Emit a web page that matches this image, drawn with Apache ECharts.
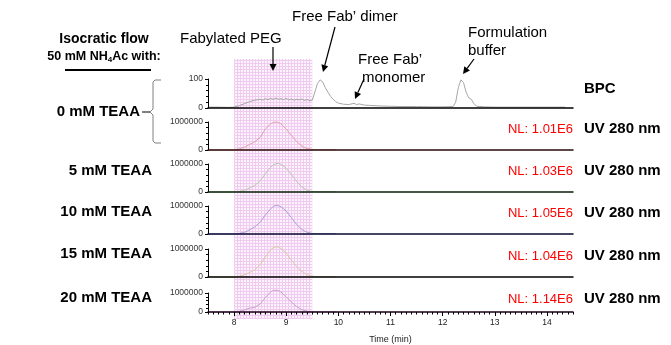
<!DOCTYPE html>
<html>
<head>
<meta charset="utf-8">
<script src="https://cdn.jsdelivr.net/npm/echarts@6/dist/echarts.min.js"></script>
<style>
  html, body { margin: 0; padding: 0; background: #fff; }
  #chart { width: 671px; height: 345px; }
</style>
</head>
<body>
<div id="chart"></div>
<script>
// time axis (min)
const timeRange = [7.5, 14.5]
const timeTicks = [8, 9, 10, 11, 12, 13, 14]
const pegWindow = [8, 9.5]

// BPC trace (relative abundance)
const bpcTime = [7.5, 7.7, 7.9, 8.0, 8.1, 8.2, 8.3, 8.4, 8.5, 8.55, 8.6, 8.65, 8.7, 8.75, 8.8, 8.85, 8.9, 8.95, 9.0, 9.05,
  9.1, 9.15, 9.2, 9.25, 9.3, 9.35, 9.4, 9.45, 9.5, 9.55, 9.6, 9.65, 9.7, 9.75, 9.8, 9.85, 9.9, 9.95, 10.0, 10.1,
  10.2, 10.3, 10.35, 10.4, 10.5, 10.6, 10.8, 11.0, 11.2, 11.5, 11.8, 12.0, 12.2, 12.25, 12.3, 12.35, 12.4, 12.45, 12.5, 12.55,
  12.6, 12.65, 12.8, 13.0, 13.5, 14.0, 14.35]
const bpcValue = [3, 3, 2, 3, 8, 15, 22, 27, 30, 27, 32, 29, 33, 30, 34, 30, 32, 29, 33, 28,
  31, 27, 30, 28, 31, 26, 29, 25, 27, 55, 85, 97, 90, 70, 55, 40, 30, 22, 17, 13,
  12, 16, 12, 14, 10, 9, 7, 6, 5, 5, 4, 4, 5, 20, 70, 97, 88, 55, 35, 30,
  15, 6, 4, 3, 3, 3, 3]

// UV 280 nm traces
const uvTime = [7.5, 8.0, 8.1, 8.2, 8.3, 8.4, 8.5, 8.6, 8.7, 8.75, 8.8, 8.85, 8.9, 9.0, 9.1, 9.2, 9.3, 9.4, 9.5, 9.6, 9.95]
const uv0 = [0, 0, 40000, 100000, 200000, 300000, 450000, 750000, 930000, 980000, 1000000, 980000, 930000, 750000, 520000, 300000, 140000, 50000, 20000, 10000, 10000]
const uv5 = [0, 0, 20000, 60000, 140000, 240000, 400000, 650000, 880000, 960000, 1010000, 1020000, 990000, 850000, 620000, 380000, 180000, 60000, 20000, 10000, 10000]
const uv10 = [0, 0, 20000, 60000, 150000, 260000, 420000, 680000, 900000, 980000, 1020000, 1010000, 970000, 820000, 580000, 340000, 160000, 60000, 20000, 10000, 10000]
const uv15 = [0, 0, 30000, 80000, 160000, 260000, 440000, 720000, 960000, 1050000, 1080000, 1070000, 1020000, 850000, 600000, 380000, 200000, 80000, 30000, 10000, 10000]
const uv20 = [0, 0, 40000, 110000, 200000, 250000, 420000, 760000, 1050000, 1130000, 1140000, 1130000, 1050000, 800000, 520000, 290000, 120000, 40000, 15000, 8000, 8000]

const panelNames = ['BPC', 'UV 280 nm', 'UV 280 nm', 'UV 280 nm', 'UV 280 nm', 'UV 280 nm']
const teaaLabels = ['0 mM TEAA', '5 mM TEAA', '10 mM TEAA', '15 mM TEAA', '20 mM TEAA']
const nlLabels = ['NL: 1.01E6', 'NL: 1.03E6', 'NL: 1.05E6', 'NL: 1.04E6', 'NL: 1.14E6']

const FONT = 'Liberation Sans, Arial, sans-serif'
const panelTop = [79, 122, 164, 206, 249, 293]
const panelH = [29, 28, 28, 28, 28, 26]
const traceColors = ['#a6a6a6', '#e2a2aa', '#b9c9b0', '#aaa2d8', '#d9c9a2', '#c9a0c9']
const baseColors = ['#000', '#2a0a0a', '#0a200a', '#0a0a30', '#000', '#1a001a']
const traces = [
  bpcTime.map((t, i) => [t, bpcValue[i]]),
  uvTime.map((t, i) => [t, uv0[i]]),
  uvTime.map((t, i) => [t, uv5[i]]),
  uvTime.map((t, i) => [t, uv10[i]]),
  uvTime.map((t, i) => [t, uv15[i]]),
  uvTime.map((t, i) => [t, uv20[i]])
]

// pink grid pattern for the PEG window
const pat = document.createElement('canvas')
pat.width = 3
pat.height = 3
const pctx = pat.getContext('2d')
pctx.fillStyle = '#fcf3fc'
pctx.fillRect(0, 0, 3, 3)
pctx.fillStyle = '#efcbef'
pctx.fillRect(0, 0, 3, 1)
pctx.fillRect(0, 0, 1, 3)

let myChart = echarts.init(document.getElementById('chart'))

let grids = []
let xAxes = []
let yAxes = []
let series = []

// overlay grid holding the shaded window
grids.push({ left: 208, right: 98, top: 59, bottom: 26 })
xAxes.push({ gridIndex: 0, type: 'value', min: timeRange[0], max: timeRange[1], show: false })
yAxes.push({ gridIndex: 0, type: 'value', min: 0, max: 1, show: false })
series.push({
  type: 'line', xAxisIndex: 0, yAxisIndex: 0, data: [], z: 1, silent: true,
  markArea: {
    silent: true,
    itemStyle: { color: { image: pat, repeat: 'repeat' } },
    data: [[{ xAxis: pegWindow[0] }, { xAxis: pegWindow[1] }]]
  }
})

for (let i = 0; i < 6; i++) {
  const g = i + 1
  const last = i === 5
  grids.push({ left: 208, right: 98, top: panelTop[i], height: panelH[i] })
  xAxes.push({
    gridIndex: g, type: 'value', min: timeRange[0], max: timeRange[1], z: 5,
    axisLine: { show: true, lineStyle: { color: baseColors[i], width: 1.5 } },
    axisTick: last ? { show: true, length: 4, customValues: timeTicks, lineStyle: { color: '#000' } } : { show: false },
    axisLabel: last ? { show: true, customValues: timeTicks, fontSize: 8.5, color: '#222', fontFamily: FONT, margin: 6 } : { show: false },
    splitLine: { show: false },
    name: last ? 'Time (min)' : '',
    nameLocation: 'middle', nameGap: 23,
    nameTextStyle: { fontSize: 9, color: '#222', fontFamily: FONT }
  })
  const top = i === 0 ? 100 : 1000000
  yAxes.push({
    gridIndex: g, type: 'value', min: 0, max: top, interval: top, z: 5,
    axisLine: { show: true, lineStyle: { color: '#000', width: 1 } },
    axisTick: { show: true, length: 3, lineStyle: { color: '#000' } },
    minorTick: { show: true, splitNumber: 5, length: 2, lineStyle: { color: '#000' } },
    axisLabel: { fontSize: 8.5, color: '#333', fontFamily: FONT, margin: 5, formatter: v => String(v) },
    splitLine: { show: false }
  })
  series.push({
    type: 'line', xAxisIndex: g, yAxisIndex: g, data: traces[i],
    symbol: 'none', clip: false, z: 3,
    lineStyle: { color: traceColors[i], width: 1 }
  })
}

// minor ticks on the time axis
xAxes.push({
  gridIndex: 6, type: 'value', min: timeRange[0], max: timeRange[1], interval: 0.1, position: 'bottom', z: 5,
  axisLine: { show: false },
  axisTick: { show: true, length: 2.5, lineStyle: { color: '#000' } },
  axisLabel: { show: false },
  splitLine: { show: false }
})

function arrow(x1, y1, x2, y2) {
  const a = Math.atan2(y2 - y1, x2 - x1)
  const L = 7, W = 3.5
  const bx = x2 - L * Math.cos(a), by = y2 - L * Math.sin(a)
  return [
    { type: 'line', z: 100, shape: { x1: x1, y1: y1, x2: bx, y2: by }, style: { stroke: '#000', lineWidth: 1.2 } },
    { type: 'polygon', z: 100, shape: { points: [[x2, y2], [bx + W * Math.sin(a), by - W * Math.cos(a)], [bx - W * Math.sin(a), by + W * Math.cos(a)]] }, style: { fill: '#000' } }
  ]
}

function txt(x, y, s, opt) {
  return {
    type: 'text', x: x, y: y, z: 100,
    style: Object.assign({ text: s, fontFamily: FONT, fontSize: 15, fill: '#000', verticalAlign: 'middle', align: 'left' }, opt || {})
  }
}

let graphics = []
graphics.push(txt(104, 39, 'Isocratic flow', { fontSize: 14, fontWeight: 'bold', align: 'center' }))
graphics.push(txt(104, 57, '50 mM NH{sub|4}Ac with:', {
  fontSize: 12.5, fontWeight: 'bold', align: 'center',
  rich: { sub: { fontSize: 8, fontWeight: 'bold', fontFamily: FONT, padding: [6, 0, 0, 0] } }
}))
graphics.push({ type: 'line', z: 100, shape: { x1: 65, y1: 70, x2: 151, y2: 70 }, style: { stroke: '#000', lineWidth: 2 } })

// brace for the 0 mM run
graphics.push({
  type: 'polyline', z: 100,
  shape: { points: [[161, 80], [155, 80], [153, 82], [153, 109], [150, 112], [153, 115], [153, 141], [155, 143], [161, 143]] },
  style: { stroke: '#808080', lineWidth: 1, fill: null }
})
graphics.push({ type: 'line', z: 100, shape: { x1: 142, y1: 112, x2: 150, y2: 112 }, style: { stroke: '#000', lineWidth: 1 } })

const teaaY = [112, 171, 212, 254, 298]
teaaLabels.forEach((s, i) => {
  graphics.push(txt(i === 0 ? 140 : 152, teaaY[i], s, { fontWeight: 'bold', align: 'right' }))
})

const rightY = [89, 129, 171, 213, 256, 299]
panelNames.forEach((s, i) => {
  graphics.push(txt(584, rightY[i], s, { fontWeight: 'bold' }))
})
nlLabels.forEach((s, i) => {
  graphics.push(txt(573, rightY[i + 1], s, { fontSize: 13, fill: '#ff0000', align: 'right' }))
})

// peak annotations
graphics.push(txt(180, 39, 'Fabylated PEG'))
graphics = graphics.concat(arrow(273, 47, 273, 71))
graphics.push(txt(292, 17, 'Free Fab\u2019 dimer'))
graphics = graphics.concat(arrow(335, 27, 323, 72))
graphics.push(txt(358, 60, 'Free Fab\u2019'))
graphics.push(txt(362, 78, 'monomer'))
graphics = graphics.concat(arrow(364, 79, 355, 99))
graphics.push(txt(468, 33, 'Formulation'))
graphics.push(txt(468, 51, 'buffer'))
graphics = graphics.concat(arrow(474, 59, 463, 74))

myChart.setOption({
  animation: false,
  textStyle: { fontFamily: FONT },
  grid: grids,
  xAxis: xAxes,
  yAxis: yAxes,
  series: series,
  graphic: graphics
})
</script>
</body>
</html>
